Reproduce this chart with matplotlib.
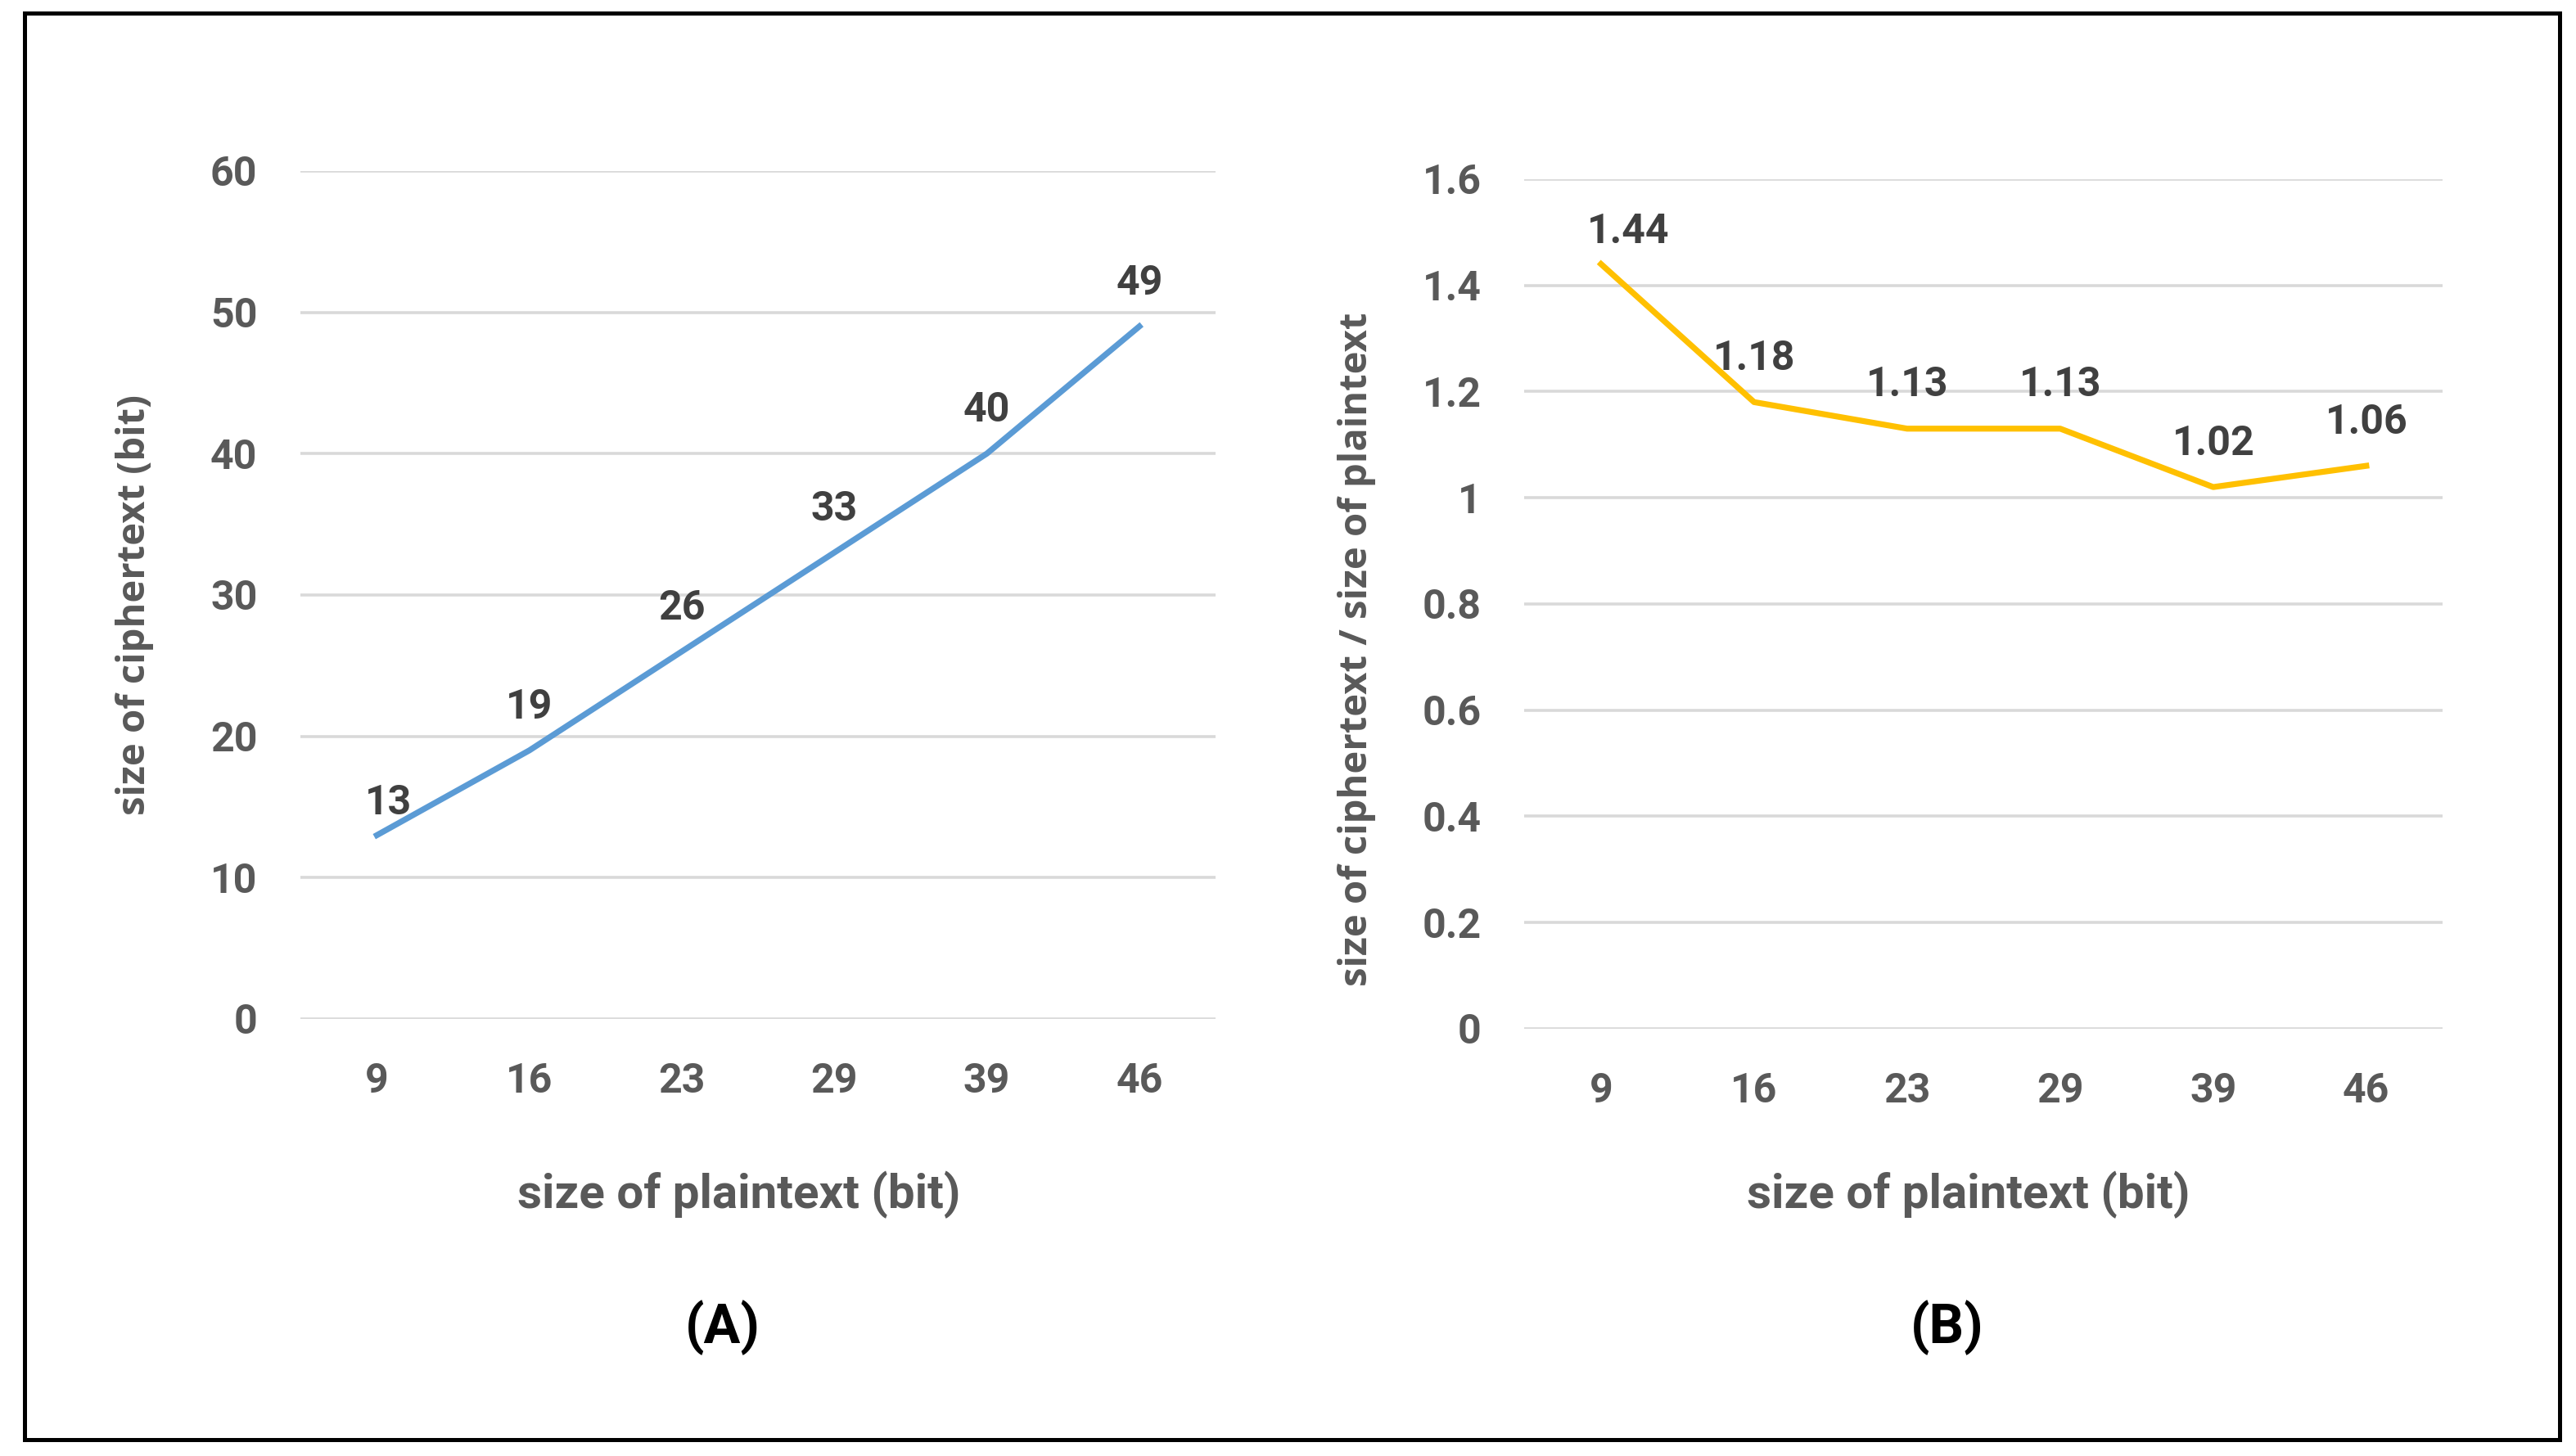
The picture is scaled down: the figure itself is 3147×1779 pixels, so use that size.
import matplotlib.pyplot as plt
from matplotlib.patches import Rectangle

# data
plain_bits = ["9", "16", "23", "29", "39", "46"]
cipher_bits = [13, 19, 26, 33, 40, 49]
ratio = [1.44, 1.18, 1.13, 1.13, 1.02, 1.06]
ratio_labels = ["1.44", "1.18", "1.13", "1.13", "1.02", "1.06"]

yticks_a = [0, 10, 20, 30, 40, 50, 60]
yticks_b = [0, 0.2, 0.4, 0.6, 0.8, 1.0, 1.2, 1.4, 1.6]
yticklabels_b = ["0", "0.2", "0.4", "0.6", "0.8", "1", "1.2", "1.4", "1.6"]

tick_font = ["Liberation Sans Narrow", "Roboto", "DejaVu Sans"]
label_font = ["Open Sans", "DejaVu Sans"]
gray = "#595959"
dark = "#404040"

fig = plt.figure(figsize=(3147 / 200, 1779 / 200), dpi=200)

# outer frame
fig.patches.append(Rectangle((0.0096, 0.0113), 0.984, 0.9797, transform=fig.transFigure,
                             fill=False, edgecolor="black", linewidth=1.8))

ax_a = fig.add_axes([0.1167, 0.3002, 0.3552, 0.5824])
ax_b = fig.add_axes([0.5918, 0.2935, 0.3565, 0.5835])


def style(ax, yticks, ylabels, ymax):
    x = range(len(plain_bits))
    ax.set_xlim(-0.5, len(plain_bits) - 0.5)
    ax.set_ylim(0, ymax)
    ax.set_xticks(list(x))
    ax.set_xticklabels(plain_bits, family=tick_font, fontsize=18, fontweight="bold", color=gray)
    ax.set_yticks(yticks)
    ax.set_yticklabels(ylabels, family=tick_font, fontsize=18, fontweight="bold", color=gray)
    ax.tick_params(length=0)
    ax.tick_params(axis="x", pad=19)
    ax.tick_params(axis="y", pad=19)
    for s in ax.spines.values():
        s.set_visible(False)
    ax.grid(axis="y", color="#D9D9D9", linewidth=1.3)
    ax.set_axisbelow(True)


style(ax_a, yticks_a, [str(v) for v in yticks_a], 60)
style(ax_b, yticks_b, yticklabels_b, 1.6)

ax_a.plot(range(len(plain_bits)), cipher_bits, color="#5B9BD5", linewidth=2.6, clip_on=False)
ax_b.plot(range(len(plain_bits)), ratio, color="#FFC000", linewidth=2.6, clip_on=False)

# first labels sit a bit to the right and lower, like in the original
for i, v in enumerate(cipher_bits):
    off = (5, 14) if i == 0 else (0, 19)
    ax_a.annotate(str(v), (i, v), xytext=off, textcoords="offset points",
                  ha="center", va="center", family=tick_font, fontsize=18,
                  fontweight="bold", color=dark)
for i, v in enumerate(ratio):
    off = (12, 14) if i == 0 else (0, 19)
    ax_b.annotate(ratio_labels[i], (i, v), xytext=off, textcoords="offset points",
                  ha="center", va="center", family=tick_font, fontsize=18,
                  fontweight="bold", color=dark)

fig.text(0.0523, 0.5847, "size of ciphertext (bit)", rotation=90, ha="center", va="center",
         family=label_font, fontsize=17, fontweight="bold", color=gray)
fig.text(0.5268, 0.554, "size of ciphertext / size of plaintext", rotation=90, ha="center",
         va="center", family=label_font, fontsize=17, fontweight="bold", color=gray)

fig.text(0.287, 0.1795, "size of plaintext (bit)", ha="center", va="center",
         family=tick_font, fontsize=21, fontweight="bold", color=gray)
fig.text(0.764, 0.1795, "size of plaintext (bit)", ha="center", va="center",
         family=tick_font, fontsize=21, fontweight="bold", color=gray)

fig.text(0.2806, 0.088, "(A)", ha="center", va="center", family=tick_font,
         fontsize=24, fontweight="bold", color="black")
fig.text(0.7557, 0.088, "(B)", ha="center", va="center", family=tick_font,
         fontsize=24, fontweight="bold", color="black")

fig.savefig("out.png", dpi=200, facecolor="white")
